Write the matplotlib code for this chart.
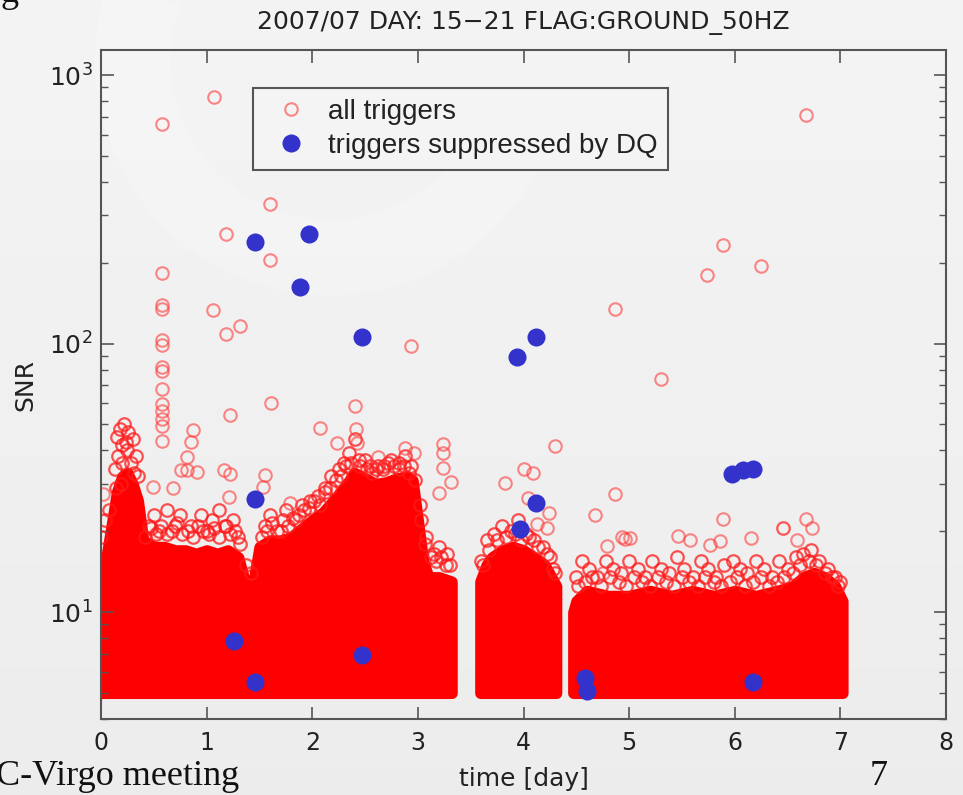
import matplotlib
matplotlib.use("Agg")
import matplotlib.pyplot as plt
from matplotlib.patches import Wedge
from matplotlib.transforms import IdentityTransform
from matplotlib.ticker import NullLocator
import numpy as np

# triggers suppressed by the DQ flag: time [day], SNR
dq_time = [1.46, 1.97, 1.88, 2.47, 3.94, 4.12, 1.46, 3.97, 4.12,
           5.97, 6.08, 6.17, 1.26, 1.46, 2.47, 4.58, 4.60, 6.17]
dq_snr = [240, 257, 162, 106, 89, 106, 26.4, 20.4, 25.5,
          32.7, 33.9, 34.2, 7.8, 5.5, 6.9, 5.7, 5.1, 5.5]

# loud triggers standing out above the bulk
loud_time = [1.07, 0.58, 6.67, 1.18, 1.60, 1.60, 5.89, 6.25, 5.74, 0.58,
             1.06, 1.18, 1.32, 0.58, 0.58, 4.87, 2.93, 5.30, 0.58, 0.58,
             0.58, 0.58, 1.61, 2.40, 1.22, 0.58, 0.58, 0.58, 0.58, 0.58,
             0.58, 2.07, 2.41, 4.30, 0.87, 0.85, 0.81, 2.23, 3.24, 3.24,
             3.24, 3.20, 3.31, 4.00, 4.09, 3.82, 4.04, 4.24, 4.22, 4.13,
             4.68, 4.79, 4.75, 2.88, 2.96, 2.62, 4.87, 4.96, 5.01, 5.46,
             5.58, 5.86, 5.77, 5.89, 6.46, 6.67, 6.73, 6.59, 0.76, 0.81,
             0.91, 1.16, 1.22, 1.55, 0.02, 1.21, 0.49, 0.68, 1.53, 1.79,
             2.42, 6.46, 6.15, 4.93]
loud_snr = [828, 656, 710, 257, 330, 204, 232, 194, 180, 184,
            133, 109, 116, 139, 135, 134, 98, 74, 103, 99,
            82, 79, 60, 58.7, 54.3, 68, 59.7, 56.2, 52.5, 49.4,
            43.4, 48.7, 48.2, 41.6, 47.8, 43.1, 37.8, 42.8, 42.4, 39.2,
            34.4, 27.8, 30.5, 34.2, 33.0, 30.3, 26.6, 23.4, 20.6, 21.3,
            23.0, 17.6, 14.0, 40.9, 39.2, 37.8, 27.5, 18.7, 18.9, 19.2,
            18.6, 18.4, 17.8, 22.2, 20.6, 22.2, 20.6, 18.6, 33.9, 33.9,
            33.3, 33.9, 32.7, 32.5, 27.5, 26.8, 29.2, 29.0, 29.2, 25.5,
            42.8, 20.6, 18.9, 19.1]

# triggers crowding the upper edge of the bulk
edge_time = [0.00, 0.04, 0.08, 0.13, 0.15, 0.18, 0.20, 0.22, 0.24, 0.26,
             0.28, 0.30, 0.33, 0.35, 0.16, 0.20, 0.25, 0.19, 0.14, 0.31,
             0.45, 0.50, 0.55, 0.62, 0.70, 0.75, 0.85, 0.95, 1.00, 1.05,
             1.12, 1.18, 1.25, 1.30, 1.55, 1.60, 1.70, 1.75, 1.85, 1.90,
             1.98, 2.05, 2.12, 2.18, 2.25, 2.30, 2.35, 2.40, 2.44, 2.50,
             2.55, 2.60, 2.68, 2.75, 2.82, 2.88, 2.93, 3.02, 3.08, 3.15,
             3.20, 3.28, 3.30, 3.60, 3.65, 3.72, 3.80, 3.88, 3.95, 4.02,
             4.10, 4.18, 4.25, 4.30, 4.50, 4.55, 4.62, 4.70, 4.78, 4.85,
             4.92, 5.00, 5.08, 5.15, 5.22, 5.30, 5.38, 5.45, 5.52, 5.60,
             5.68, 5.75, 5.82, 5.90, 5.98, 6.05, 6.12, 6.20, 6.28, 6.35,
             6.42, 6.50, 6.58, 6.65, 6.72, 6.80, 6.88, 6.95, 7.00,
             0.42, 0.47, 0.52, 0.57, 0.62, 0.67, 0.72, 0.77, 0.82, 0.87,
             0.92, 0.97, 1.02, 1.07, 1.12, 1.17, 1.22, 1.27, 1.32, 1.37,
             1.42, 1.52, 1.57, 1.62, 1.67, 1.72, 1.77, 1.82, 1.87, 1.92,
             1.97, 2.02, 2.07, 2.12, 2.17, 2.22, 2.27, 2.32, 2.37, 2.45,
             2.52, 2.57, 2.62, 2.67, 2.72, 2.77, 2.82, 2.87, 2.92, 2.97,
             3.03, 3.07, 3.12, 3.17, 3.22, 3.27,
             3.62, 3.67, 3.75, 3.83, 3.92, 3.98, 4.05, 4.14, 4.22, 4.28,
             4.52, 4.58, 4.65, 4.73, 4.82, 4.90, 4.97, 5.05, 5.12, 5.20,
             5.27, 5.35, 5.42, 5.50, 5.57, 5.65, 5.72, 5.80, 5.87, 5.95,
             6.02, 6.10, 6.17, 6.25, 6.32, 6.40, 6.47, 6.55, 6.62, 6.70,
             6.77, 6.85, 6.92, 6.98]
edge_snr = [19, 22, 24, 34, 45, 48, 42, 50, 43, 47,
            36, 44, 38, 32, 38, 36, 40, 30, 29, 33,
            21, 23, 20, 24, 21, 23, 21, 23, 20, 22,
            24, 21, 22, 19, 21, 23, 20, 24, 22, 25,
            26, 27, 29, 32, 34, 36, 39, 44, 37, 37,
            35, 34, 35, 37, 36, 38, 35, 25, 19, 16.5,
            17.5, 16.5, 15, 15.5, 18.5, 19.5, 21, 20, 22, 19.5,
            18.5, 17.5, 16, 14, 13.5, 15.5, 14.5, 13.5, 15.5, 14.5,
            14, 15.5, 14.5, 13.5, 15.5, 14.5, 14, 16, 14.5, 13.5,
            15.5, 14.5, 13.5, 15, 15.5, 14.5, 14, 15.5, 14.5, 13.5,
            15.5, 14.5, 16, 16.5, 17, 15.5, 14.5, 13.5, 13,
            19, 20.5, 19.5, 21, 19.5, 20, 21.5, 19.5, 20, 19,
            21, 20, 19.5, 20.5, 19, 21, 19.5, 20, 18, 15,
            14, 19, 20, 21.5, 20, 22, 21, 22.5, 23, 24,
            24.5, 26, 25, 28, 29, 31, 32, 35, 36, 35,
            34, 33, 35, 34, 36, 35, 34, 35, 33, 31,
            22, 18, 16, 15.5, 16, 15,
            15, 17, 18.5, 19, 19.5, 18.5, 19, 17.5, 16.5, 14.5,
            12.5, 13, 13.5, 12.5, 13.5, 13, 12.5, 13.5, 13, 12.5,
            13.5, 13, 12.5, 13.5, 13, 12.5, 13.5, 13, 12.5, 13,
            13.5, 12.5, 13, 13.5, 12.5, 13, 13.5, 14, 15, 15.5,
            15, 14, 13.5, 12.5]

# top of the dense trigger population, one list per science segment
seg1_time = [0.00, 0.05, 0.10, 0.15, 0.20, 0.25, 0.30, 0.35, 0.40, 0.50,
             0.60, 0.70, 0.80, 0.90, 1.00, 1.10, 1.20, 1.30, 1.35, 1.40,
             1.45, 1.50, 1.60, 1.70, 1.80, 1.90, 2.00, 2.10, 2.20, 2.30,
             2.40, 2.50, 2.60, 2.70, 2.80, 2.90, 2.95, 3.00, 3.05, 3.10,
             3.20, 3.32]
seg1_top = [15, 16, 21, 28, 32, 33, 30, 26, 18.5, 17.5,
            17.5, 17, 17, 16.5, 17, 16.5, 17, 16, 13.5, 11.5,
            13.5, 17.5, 18.5, 18.5, 19, 20.5, 22, 23.5, 26, 29,
            33, 31.5, 30, 30.5, 31.5, 32, 31, 22, 15.5, 13.5,
            13.5, 13]
seg2_time = [3.59, 3.65, 3.70, 3.80, 3.90, 4.00, 4.10, 4.20, 4.31]
seg2_top = [13, 15, 16, 17, 17.5, 17, 16, 15, 12.5]
seg3_time = [4.47, 4.50, 4.60, 4.80, 5.00, 5.20, 5.40, 5.60, 5.80, 6.00,
             6.20, 6.40, 6.55, 6.65, 6.75, 6.85, 6.95, 7.02]
seg3_top = [10, 11, 12, 11.5, 11.5, 12, 11.5, 12, 11.5, 12,
            11.5, 12, 12.5, 13.5, 14, 13.5, 12.5, 11]

snr_floor = 5.0

plt.rcParams['font.family'] = ['Liberation Sans Narrow', 'DejaVu Sans']

fig = plt.figure(figsize=(9.63, 7.95), dpi=100)

# slide background with a soft light band
bg = fig.add_axes([0, 0, 1, 1], zorder=-5)
grad = np.linspace(0.955, 0.925, 100).reshape(-1, 1)
bg.imshow(grad, cmap='gray', vmin=0, vmax=1, aspect='auto', extent=[0, 1, 0, 1])
bg.axis('off')
fig.add_artist(Wedge((330, 735), 235, 160, 345, width=75, transform=IdentityTransform(),
                     facecolor='white', edgecolor='none', alpha=0.2, zorder=-4))

ax = fig.add_axes([0.1049, 0.0956, 0.8775, 0.8415])
ax.set_facecolor('none')
ax.set_yscale('log')
ax.set_xlim(0, 8)
ax.set_ylim(4, 1240)

red = '#ff0000'
for t, top in [(seg1_time, seg1_top), (seg2_time, seg2_top), (seg3_time, seg3_top)]:
    body = ax.fill_between(t, snr_floor, top, facecolor=red, edgecolor=red, linewidth=8)
    body.set_joinstyle('round')

ax.plot(edge_time, edge_snr, 'o', mfc='none', mec='#ff1a1a', mew=1.6, ms=9, alpha=0.75)
ax.plot(loud_time, loud_snr, 'o', mfc='none', mec='#ff3b3b', mew=1.5, ms=9, alpha=0.6,
        label='all triggers')
ax.plot(dq_time, dq_snr, 'o', color='#3333cc', ms=13, mew=0,
        label='triggers suppressed by DQ')

ax.set_xticks(range(9))
ax.xaxis.set_minor_locator(NullLocator())
for side in ax.spines.values():
    side.set_color('#555555')
    side.set_linewidth(1.5)
ax.tick_params(which='both', direction='in', top=True, right=True,
               color='#555555', labelcolor='#222222')
ax.tick_params(which='major', length=9, width=1.2)
ax.tick_params(which='minor', length=5, width=1.0)
ax.tick_params(axis='x', pad=9, labelsize=17)
ax.tick_params(axis='y', pad=6, labelsize=18)

ax.set_title('2007/07 DAY: 15\u221221 FLAG:GROUND_50HZ', fontsize=18, color='#222222', pad=15)
ax.set_xlabel('time [day]', fontsize=18, color='#222222', labelpad=8)
ax.set_ylabel('SNR', fontsize=18, color='#222222', labelpad=8)

leg = ax.legend(loc='upper left', bbox_to_anchor=(0.180, 0.943), borderaxespad=0,
                prop={'family': ['Liberation Sans', 'DejaVu Sans'], 'size': 20},
                fancybox=False, framealpha=1, edgecolor='#555555', facecolor='#f4f4f4',
                handletextpad=0.3, labelspacing=0.3, borderpad=0.38)
leg.get_frame().set_linewidth(1.5)
for txt in leg.get_texts():
    txt.set_color('#222222')

# slide footer and a clipped heading letter
serif = ['Liberation Serif', 'DejaVu Serif']
fig.text(-0.004, 0.013, 'C-Virgo meeting', family=serif, fontsize=26, color='#111111')
fig.text(0.912, 0.013, '7', family=serif, fontsize=26, color='#111111', ha='center')
fig.text(0.001, 0.998, 'g', family=serif, fontsize=26, color='#111111', va='baseline')

fig.savefig('out.png', dpi=100)
